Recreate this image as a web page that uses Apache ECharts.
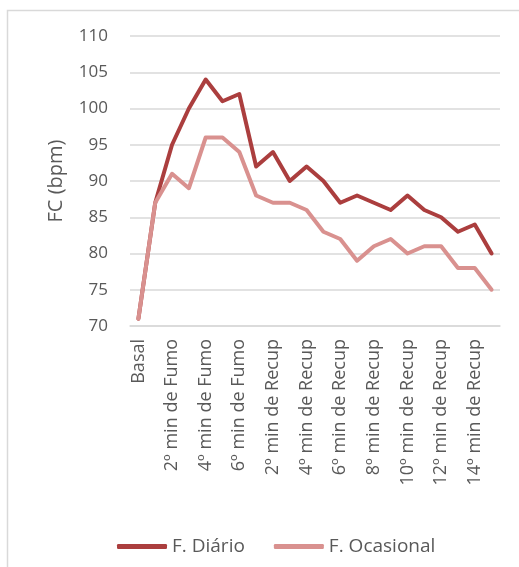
<!DOCTYPE html>
<html>
<head>
<meta charset="utf-8">
<script src="https://cdn.jsdelivr.net/npm/echarts@6/dist/echarts.min.js"></script>
<style>
  html, body { margin: 0; padding: 0; background: #fff; }
  #chart { width: 519px; height: 567px; }
</style>
</head>
<body>
<div id="chart"></div>
<script>
// Time points: baseline, 6 minutes of smoking, 15 minutes of recovery
const categories = [
  'Basal',
  '1º min de Fumo', '2º min de Fumo', '3º min de Fumo',
  '4º min de Fumo', '5º min de Fumo', '6º min de Fumo',
  '1º min de Recup', '2º min de Recup', '3º min de Recup',
  '4º min de Recup', '5º min de Recup', '6º min de Recup',
  '7º min de Recup', '8º min de Recup', '9º min de Recup',
  '10º min de Recup', '11º min de Recup', '12º min de Recup',
  '13º min de Recup', '14º min de Recup', '15º min de Recup'
];

// Heart rate (bpm)
const fDiario = [71, 87, 95, 100, 104, 101, 102, 92, 94, 90, 92, 90, 87, 88, 87, 86, 88, 86, 85, 83, 84, 80];
const fOcasional = [71, 87, 91, 89, 96, 96, 94, 88, 87, 87, 86, 83, 82, 79, 81, 82, 80, 81, 81, 78, 78, 75];

const seriesNames = ['F. Diário', 'F. Ocasional'];
const yTicks = { min: 70, max: 110, step: 5 };

const FONT = 'Open Sans';
const TEXT = '#595959';
const DARK = '#AB3E3E';
const LIGHT = '#D9918F';

const chart = echarts.init(document.getElementById('chart'), null, { renderer: 'canvas' });

chart.setOption({
  animation: false,
  backgroundColor: '#fff',
  textStyle: { fontFamily: FONT, color: TEXT },
  graphic: [{
    type: 'rect',
    shape: { x: 7.5, y: 10.5, width: 600, height: 600 },
    style: { fill: 'none', stroke: '#d9d9d9', lineWidth: 1.5 },
    silent: true
  }],
  grid: { left: 130, right: 19, top: 36, bottom: 241, containLabel: false },
  legend: {
    bottom: 6,
    left: 112,
    itemWidth: 50,
    itemHeight: 5,
    itemGap: 29,
    icon: 'roundRect',
    textStyle: { fontFamily: FONT, fontSize: 19, color: TEXT },
    data: seriesNames
  },
  xAxis: {
    type: 'category',
    data: categories,
    boundaryGap: true,
    axisLine: { show: true, lineStyle: { color: '#d9d9d9', width: 1.5 } },
    axisTick: { show: false },
    axisLabel: {
      interval: 1,
      rotate: 90,
      margin: 13,
      fontFamily: FONT,
      fontSize: 18,
      color: TEXT
    }
  },
  yAxis: {
    type: 'value',
    min: yTicks.min,
    max: yTicks.max,
    interval: yTicks.step,
    name: 'FC (bpm)',
    nameLocation: 'middle',
    nameGap: 64,
    nameRotate: 90,
    nameTextStyle: { fontFamily: FONT, fontSize: 20, color: TEXT },
    axisLine: { show: false },
    axisTick: { show: false },
    axisLabel: { fontFamily: FONT, fontSize: 17, color: TEXT, margin: 22 },
    splitLine: { lineStyle: { color: '#d9d9d9', width: 1.5 } }
  },
  series: [
    {
      name: seriesNames[0],
      type: 'line',
      data: fDiario,
      symbol: 'none',
      color: DARK,
      lineStyle: { width: 4, color: DARK, join: 'round', cap: 'round' }
    },
    {
      name: seriesNames[1],
      type: 'line',
      data: fOcasional,
      symbol: 'none',
      color: LIGHT,
      lineStyle: { width: 4, color: LIGHT, join: 'round', cap: 'round' }
    }
  ]
});
</script>
</body>
</html>
